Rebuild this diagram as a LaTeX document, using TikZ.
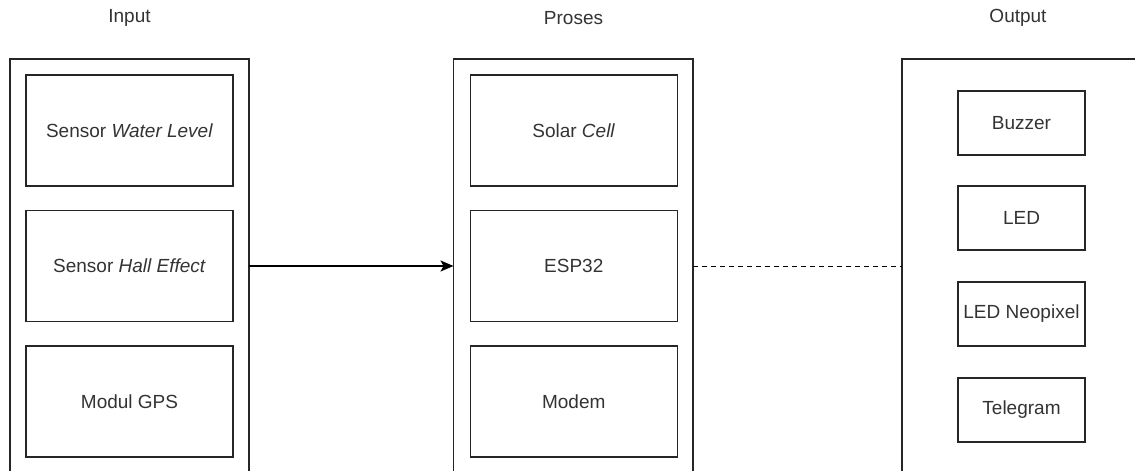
\documentclass[tikz,border=0pt]{standalone}
\usepackage{fontspec}
\setmainfont{Liberation Sans}
\usetikzlibrary{arrows.meta,positioning}

\begin{document}
\begin{tikzpicture}[x=1pt,y=-1pt,
  font=\fontsize{19}{22}\selectfont, text=black!80,
  frame/.style={draw=black!85, line width=1.4pt, inner sep=0pt, outer sep=0pt, anchor=north west, minimum height=450pt},
  part/.style={draw=black!85, line width=1.4pt, inner sep=0pt, outer sep=0pt, minimum width=207pt, minimum height=111pt},
  smallpart/.style={part, minimum width=127pt, minimum height=64pt}]
\useasboundingbox (0,0) rectangle (1135,471);
% columns
\node [frame, minimum width=239pt] (inbox) at (10,59) {};
\node [frame, minimum width=239.5pt] (prosbox) at (453.5,59) {};
\node [frame, minimum width=300pt] (outbox) at (902,59) {};
\node (intitle) at (129.5,18) {Input};
\node (prostitle) at (573.5,18) {Proses};
\node (outtitle) at (1018,18) {Output};
% input
\node [part] (waterlevel) at (129.5,130.5) {Sensor \textit{Water Level}};
\node [part] (halleffect) at (129.5,266) {Sensor \textit{Hall Effect}};
\node [part] (gps) at (129.5,401.5) {Modul GPS};
% proses
\node [part] (solarcell) at (573.75,130.5) {Solar \textit{Cell}};
\node [part] (esp) at (573.75,266) {ESP32};
\node [part] (modem) at (573.75,401.5) {Modem};
% output
\node [smallpart] (buzzer) at (1021.5,123) {Buzzer};
\node [smallpart] (led) at (1021.5,218) {LED};
\node [smallpart] (neopixel) at (1021.5,314) {LED Neopixel};
\node [smallpart] (telegram) at (1021.5,410) {Telegram};
% links
\draw [line width=1.4pt, -{Stealth[length=13pt,width=11pt,inset=3pt]}] (inbox.east |- halleffect) -- (prosbox.west |- esp);
\draw [line width=1pt, dash pattern=on 5pt off 4pt] (prosbox.east |- esp) -- (outbox.west |- esp);
\end{tikzpicture}
\end{document}
